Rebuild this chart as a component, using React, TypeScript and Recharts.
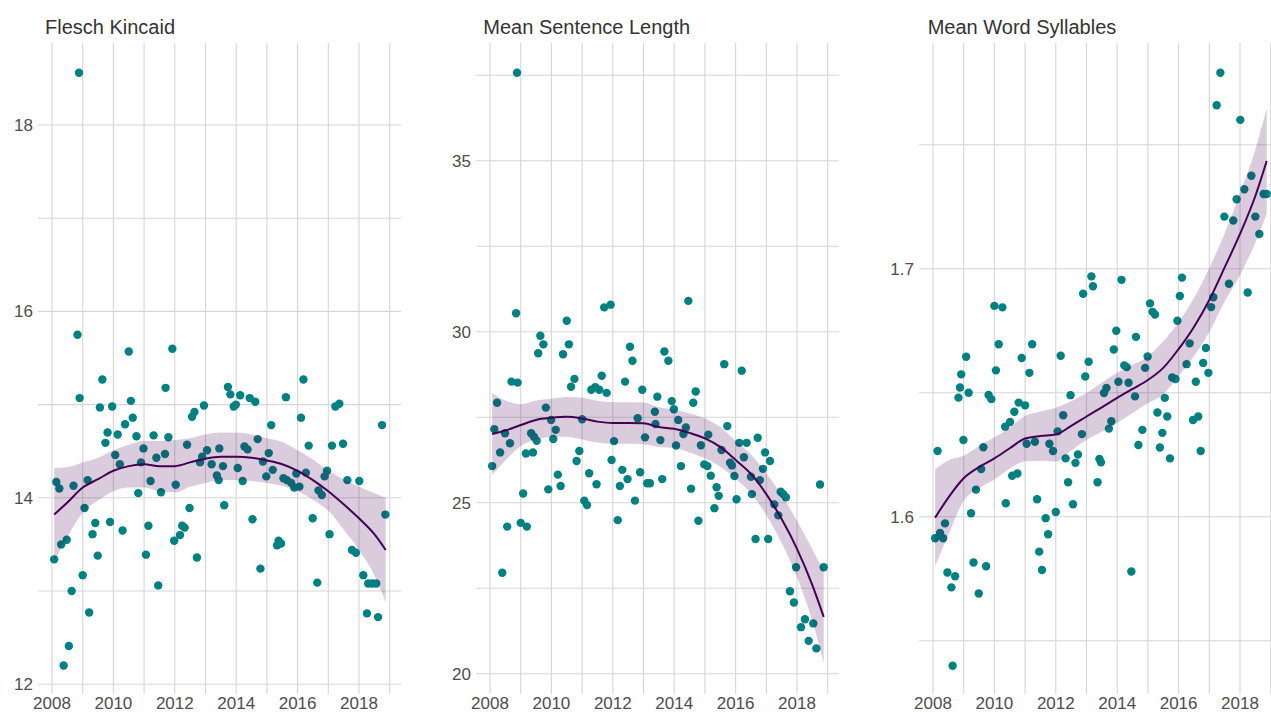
import React from 'react';
import { ComposedChart, Scatter, Area, Line, XAxis, YAxis, CartesianGrid } from 'recharts';

const FONT = '"Liberation Sans", Arial, Helvetica, sans-serif';

// ---------- shared x axis ----------
const xTicks = [2008, 2010, 2012, 2014, 2016, 2018];
const xGridYears = [2008, 2009, 2010, 2011, 2012, 2013, 2014, 2015, 2016, 2017, 2018, 2019];
const xDomain = [2007.544, 2019.368];
const smoothYears = [2008.07, 2008.5, 2009, 2009.5, 2010, 2010.5, 2011, 2011.5, 2012, 2012.5, 2013, 2013.5, 2014, 2014.5, 2015, 2015.5, 2016, 2016.5, 2017, 2017.5, 2018, 2018.5, 2018.87];

// ---------- Flesch Kincaid ----------
const fkYears = [2008.07, 2008.14, 2008.24, 2008.30, 2008.38, 2008.48, 2008.55, 2008.64, 2008.70, 2008.83,
  2008.88, 2008.90, 2009.00, 2009.06, 2009.16, 2009.21, 2009.32, 2009.41, 2009.49, 2009.56,
  2009.64, 2009.74, 2009.81, 2009.89, 2009.96, 2010.06, 2010.14, 2010.21, 2010.30, 2010.38,
  2010.50, 2010.57, 2010.63, 2010.75, 2010.81, 2010.90, 2010.98, 2011.06, 2011.14, 2011.21,
  2011.31, 2011.40, 2011.46, 2011.55, 2011.68, 2011.70, 2011.79, 2011.92, 2011.98, 2012.03,
  2012.17, 2012.24, 2012.32, 2012.40, 2012.48, 2012.56, 2012.64, 2012.72, 2012.82, 2012.89,
  2012.95, 2013.05, 2013.20, 2013.37, 2013.43, 2013.45, 2013.57, 2013.61, 2013.73, 2013.81,
  2013.92, 2013.99, 2014.05, 2014.13, 2014.21, 2014.27, 2014.37, 2014.44, 2014.53, 2014.62,
  2014.70, 2014.79, 2014.87, 2014.98, 2015.06, 2015.14, 2015.19, 2015.33, 2015.38, 2015.46,
  2015.54, 2015.62, 2015.65, 2015.79, 2015.89, 2015.96, 2016.06, 2016.11, 2016.19, 2016.27,
  2016.36, 2016.49, 2016.64, 2016.68, 2016.79, 2016.88, 2016.96, 2017.04, 2017.12, 2017.23,
  2017.36, 2017.48, 2017.62, 2017.77, 2017.90, 2018.01, 2018.14, 2018.26, 2018.30, 2018.43,
  2018.56, 2018.62, 2018.75, 2018.86];
const fkValues = [13.34, 14.17, 14.10, 13.50, 12.20, 13.55, 12.41, 13.00, 14.13, 15.75,
  18.56, 15.07, 13.17, 13.89, 14.19, 12.77, 13.61, 13.73, 13.38, 14.97,
  15.27, 14.59, 14.70, 13.74, 14.98, 14.46, 14.68, 14.36, 13.65, 14.79,
  15.57, 15.04, 14.86, 14.66, 14.05, 14.38, 14.53, 13.39, 13.70, 14.18,
  14.67, 14.43, 13.06, 14.06, 14.47, 15.18, 14.65, 15.60, 13.54, 14.14,
  13.60, 13.70, 13.68, 14.57, 13.89, 14.87, 14.92, 13.36, 14.38, 14.44,
  14.99, 14.51, 14.36, 14.24, 14.19, 14.53, 14.34, 13.92, 15.19, 15.11,
  14.98, 15.00, 14.32, 15.10, 14.18, 14.55, 14.52, 15.07, 13.77, 15.03,
  14.63, 13.24, 14.39, 14.23, 14.48, 14.78, 14.30, 13.49, 13.54, 13.51,
  14.21, 15.08, 14.19, 14.16, 14.11, 14.26, 14.12, 14.86, 15.27, 14.27,
  14.56, 13.78, 13.09, 14.08, 14.03, 14.23, 14.29, 13.61, 14.56, 14.98,
  15.01, 14.58, 14.19, 13.44, 13.41, 14.18, 13.17, 12.76, 13.08, 13.08,
  13.08, 12.72, 14.78, 13.82];
const fkFit = [13.82, 13.95, 14.11, 14.20, 14.29, 14.34, 14.36, 14.34, 14.34, 14.38, 14.42, 14.44, 14.44, 14.43, 14.40, 14.36, 14.29, 14.19, 14.07, 13.93, 13.78, 13.61, 13.44];
const fkLower = [13.32, 13.58, 13.84, 13.97, 14.07, 14.11, 14.11, 14.07, 14.06, 14.12, 14.16, 14.19, 14.19, 14.18, 14.16, 14.13, 14.07, 13.98, 13.86, 13.66, 13.44, 13.17, 12.88];
const fkUpper = [14.32, 14.33, 14.38, 14.43, 14.51, 14.57, 14.61, 14.61, 14.62, 14.64, 14.68, 14.70, 14.70, 14.68, 14.64, 14.60, 14.51, 14.41, 14.29, 14.20, 14.12, 14.05, 14.00];
const fkTicks = [12, 14, 16, 18];
const fkGrid = [12, 13, 14, 15, 16, 17, 18];
const fkDomain = [11.895, 18.88];

// ---------- Mean Sentence Length ----------
const mslYears = [2008.07, 2008.14, 2008.23, 2008.33, 2008.40, 2008.49, 2008.56, 2008.65, 2008.70, 2008.85,
  2008.88, 2008.90, 2009.00, 2009.08, 2009.17, 2009.20, 2009.34, 2009.40, 2009.43, 2009.52,
  2009.57, 2009.64, 2009.74, 2009.82, 2009.90, 2009.99, 2010.06, 2010.14, 2010.21, 2010.30,
  2010.38, 2010.50, 2010.57, 2010.64, 2010.75, 2010.82, 2010.91, 2011.00, 2011.07, 2011.16,
  2011.23, 2011.30, 2011.43, 2011.47, 2011.56, 2011.64, 2011.72, 2011.80, 2011.93, 2011.96,
  2012.04, 2012.16, 2012.23, 2012.31, 2012.40, 2012.48, 2012.56, 2012.64, 2012.72, 2012.81,
  2012.89, 2012.96, 2013.05, 2013.12, 2013.21, 2013.37, 2013.39, 2013.45, 2013.55, 2013.61,
  2013.68, 2013.81, 2013.92, 2013.99, 2014.06, 2014.13, 2014.22, 2014.30, 2014.38, 2014.46,
  2014.55, 2014.62, 2014.70, 2014.79, 2014.87, 2014.98, 2015.08, 2015.11, 2015.19, 2015.31,
  2015.38, 2015.45, 2015.54, 2015.63, 2015.73, 2015.82, 2015.88, 2015.96, 2016.03, 2016.12,
  2016.20, 2016.27, 2016.36, 2016.50, 2016.53, 2016.65, 2016.72, 2016.79, 2016.89, 2016.96,
  2017.06, 2017.12, 2017.26, 2017.39, 2017.47, 2017.55, 2017.64, 2017.77, 2017.90, 2017.97,
  2018.13, 2018.26, 2018.38, 2018.53, 2018.63, 2018.75, 2018.87];
const mslValues = [26.07, 27.15, 27.92, 26.47, 22.95, 27.03, 24.30, 26.74, 28.54, 30.54,
  37.57, 28.51, 24.41, 25.27, 26.44, 24.30, 27.03, 26.47, 26.93, 26.81,
  29.37, 29.88, 29.63, 27.78, 25.39, 27.42, 26.86, 27.13, 25.82, 25.49,
  29.34, 30.32, 29.63, 28.39, 28.62, 26.22, 26.51, 27.44, 25.06, 24.93,
  25.86, 28.30, 28.38, 25.54, 28.30, 28.71, 30.71, 28.21, 30.79, 26.25,
  26.80, 24.49, 25.49, 25.96, 28.54, 25.69, 29.56, 29.15, 25.06, 27.47,
  25.89, 28.30, 26.91, 25.57, 25.57, 27.66, 27.30, 28.10, 26.83, 25.69,
  29.42, 29.15, 27.97, 27.73, 26.67, 27.42, 26.07, 27.01, 27.20, 30.90,
  25.41, 27.92, 28.25, 24.47, 26.68, 26.12, 26.07, 26.99, 25.79, 24.84,
  25.45, 25.20, 26.54, 29.05, 27.24, 26.17, 26.09, 25.78, 25.10, 26.75,
  28.86, 26.33, 26.75, 25.76, 25.25, 23.94, 26.90, 25.66, 25.99, 26.47,
  23.94, 26.22, 24.95, 24.63, 25.32, 25.25, 25.16, 22.41, 22.08, 23.11,
  21.36, 21.59, 20.96, 21.47, 20.74, 25.53, 23.11];
const mslFit = [27.01, 27.11, 27.27, 27.42, 27.48, 27.51, 27.46, 27.37, 27.33, 27.33, 27.32, 27.21, 27.16, 27.04, 26.88, 26.63, 26.25, 25.84, 25.25, 24.52, 23.65, 22.59, 21.66];
const mslLower = [25.81, 26.23, 26.66, 26.85, 26.92, 26.93, 26.85, 26.76, 26.72, 26.72, 26.71, 26.63, 26.60, 26.47, 26.30, 26.05, 25.69, 25.27, 24.64, 23.82, 22.83, 21.54, 20.31];
const mslUpper = [28.21, 27.99, 27.88, 27.99, 28.04, 28.09, 28.07, 27.98, 27.94, 27.94, 27.93, 27.79, 27.72, 27.61, 27.46, 27.21, 26.81, 26.41, 25.86, 25.22, 24.47, 23.64, 23.01];
const mslTicks = [20, 25, 30, 35];
const mslGrid = [20, 22.5, 25, 27.5, 30, 32.5, 35, 37.5];
const mslDomain = [19.406, 38.441];

// ---------- Mean Word Syllables ----------
const mwsYears = [2008.07, 2008.15, 2008.23, 2008.33, 2008.39, 2008.47, 2008.60, 2008.64, 2008.72, 2008.83,
  2008.88, 2008.92, 2008.99, 2009.08, 2009.16, 2009.24, 2009.32, 2009.40, 2009.49, 2009.57,
  2009.64, 2009.73, 2009.81, 2009.90, 2010.00, 2010.05, 2010.14, 2010.26, 2010.35, 2010.37,
  2010.51, 2010.58, 2010.65, 2010.75, 2010.79, 2010.89, 2011.00, 2011.05, 2011.14, 2011.23,
  2011.32, 2011.39, 2011.46, 2011.55, 2011.67, 2011.75, 2011.79, 2011.91, 2012.00, 2012.06,
  2012.16, 2012.24, 2012.32, 2012.40, 2012.48, 2012.56, 2012.64, 2012.72, 2012.85, 2012.89,
  2012.96, 2013.07, 2013.16, 2013.21, 2013.36, 2013.42, 2013.47, 2013.57, 2013.65, 2013.73,
  2013.81, 2013.89, 2013.97, 2014.04, 2014.14, 2014.23, 2014.31, 2014.37, 2014.46, 2014.58,
  2014.61, 2014.69, 2014.82, 2014.91, 2014.99, 2015.07, 2015.15, 2015.23, 2015.31, 2015.39,
  2015.47, 2015.55, 2015.63, 2015.72, 2015.79, 2015.90, 2015.96, 2016.04, 2016.11, 2016.26,
  2016.36, 2016.47, 2016.56, 2016.64, 2016.72, 2016.80, 2016.89, 2016.97, 2017.06, 2017.13,
  2017.24, 2017.36, 2017.49, 2017.64, 2017.78, 2017.89, 2018.01, 2018.14, 2018.25, 2018.37,
  2018.50, 2018.63, 2018.77, 2018.87];
const mwsValues = [1.5913, 1.6265, 1.5934, 1.5913, 1.5973, 1.5775, 1.5715, 1.5399, 1.5760, 1.6480,
  1.6521, 1.6574, 1.6309, 1.6645, 1.6500, 1.6014, 1.5815, 1.6109, 1.5690, 1.6192,
  1.6280, 1.5800, 1.6491, 1.6474, 1.6850, 1.6590, 1.6695, 1.6844, 1.6363, 1.6054,
  1.6382, 1.6165, 1.6423, 1.6174, 1.6460, 1.6640, 1.6449, 1.6294, 1.6580, 1.6695,
  1.6302, 1.6070, 1.5859, 1.5785, 1.5994, 1.5929, 1.6294, 1.6265, 1.6019, 1.6344,
  1.6649, 1.6409, 1.6235, 1.6139, 1.6490, 1.6050, 1.6217, 1.6251, 1.6333, 1.6899,
  1.6565, 1.6625, 1.6969, 1.6929, 1.6139, 1.6233, 1.6219, 1.6499, 1.6519, 1.6355,
  1.6385, 1.6674, 1.6750, 1.6544, 1.6955, 1.6610, 1.6603, 1.6540, 1.5779, 1.6485,
  1.6725, 1.6289, 1.6350, 1.6600, 1.6646, 1.6860, 1.6826, 1.6815, 1.6420, 1.6279,
  1.6338, 1.6479, 1.6404, 1.6235, 1.6561, 1.6555, 1.6790, 1.6890, 1.6964, 1.6615,
  1.6699, 1.6390, 1.6544, 1.6404, 1.6265, 1.6620, 1.6680, 1.6580, 1.6845, 1.6885,
  1.7659, 1.7790, 1.7210, 1.6939, 1.7194, 1.7280, 1.7600, 1.7320, 1.6904, 1.7375,
  1.7210, 1.7140, 1.7301, 1.7301];
const mwsFit = [1.5996, 1.6077, 1.6155, 1.6200, 1.6235, 1.6276, 1.6315, 1.6325, 1.6331, 1.6366, 1.6404, 1.6441, 1.6479, 1.6515, 1.6551, 1.6600, 1.6676, 1.6765, 1.6874, 1.7005, 1.7140, 1.7293, 1.7434];
const mwsLower = [1.5801, 1.5926, 1.6064, 1.6115, 1.6150, 1.6193, 1.6224, 1.6226, 1.6223, 1.6267, 1.6309, 1.6342, 1.6378, 1.6418, 1.6457, 1.6493, 1.6568, 1.6648, 1.6745, 1.6868, 1.6975, 1.7105, 1.7221];
const mwsUpper = [1.6191, 1.6228, 1.6246, 1.6285, 1.6320, 1.6359, 1.6406, 1.6424, 1.6439, 1.6465, 1.6499, 1.6540, 1.6580, 1.6612, 1.6645, 1.6707, 1.6784, 1.6882, 1.7003, 1.7142, 1.7305, 1.7481, 1.7647];
const mwsTicks = [1.6, 1.7];
const mwsGrid = [1.55, 1.6, 1.65, 1.7, 1.75];
const mwsDomain = [1.5285, 1.791];

// ---------- layout ----------
const Y_W = 38;
const PLOT_W = 363;
const CHART_H = 713;
const MARGIN = { top: 43, right: 0, bottom: 0, left: 0 };

const TEAL = '#008080';
const PURPLE = '#440154';

const toPoints = (xs: number[], ys: number[]) => xs.map((x, i) => ({ x, y: ys[i] }));
const toBand = (fit: number[], lo: number[], hi: number[]) =>
  smoothYears.map((x, i) => ({ x, fit: fit[i], range: [lo[i], hi[i]] }));

const panels = [
  { title: 'Flesch Kincaid', titleX: 45, plotLeft: 37.7, points: toPoints(fkYears, fkValues), band: toBand(fkFit, fkLower, fkUpper), ticks: fkTicks, grid: fkGrid, domain: fkDomain },
  { title: 'Mean Sentence Length', titleX: 483.3, plotLeft: 475.7, points: toPoints(mslYears, mslValues), band: toBand(mslFit, mslLower, mslUpper), ticks: mslTicks, grid: mslGrid, domain: mslDomain },
  { title: 'Mean Word Syllables', titleX: 927.7, plotLeft: 918.7, points: toPoints(mwsYears, mwsValues), band: toBand(mwsFit, mwsLower, mwsUpper), ticks: mwsTicks, grid: mwsGrid, domain: mwsDomain },
];

const tickStyle = { fill: '#4d4d4d', fontSize: 17, fontFamily: FONT };

const Dot = (p: any) => <circle cx={p.cx} cy={p.cy} r={4.2} fill={TEAL} />;

function Panel({ p }: { p: typeof panels[number] }) {
  const W = Y_W + PLOT_W;
  return (
    <>
      {/* base layer: grid, axes, points */}
      <div style={{ position: 'absolute', left: p.plotLeft - Y_W, top: 0 }}>
        <ComposedChart width={W} height={CHART_H} data={p.band} margin={MARGIN}>
          <CartesianGrid stroke="#d6d6d6" strokeWidth={1.1} horizontalValues={p.grid} verticalValues={xGridYears} />
          <XAxis type="number" dataKey="x" domain={xDomain} allowDataOverflow ticks={xTicks} interval={0}
            tick={tickStyle} axisLine={false} tickLine={false} tickSize={0} tickMargin={3} height={19} />
          <YAxis type="number" domain={p.domain} allowDataOverflow ticks={p.ticks} interval={0} width={Y_W}
            tick={tickStyle} axisLine={false} tickLine={false} tickSize={0} tickMargin={5} />
          <Scatter data={p.points} dataKey="y" shape={Dot} isAnimationActive={false} />
        </ComposedChart>
      </div>
      {/* top layer: loess ribbon and fitted line drawn over the points */}
      <div style={{ position: 'absolute', left: p.plotLeft - Y_W, top: 0, pointerEvents: 'none' }}>
        <ComposedChart width={W} height={CHART_H} data={p.band} margin={MARGIN}>
          <XAxis type="number" dataKey="x" domain={xDomain} allowDataOverflow ticks={xTicks} tick={false}
            axisLine={false} tickLine={false} height={19} />
          <YAxis type="number" domain={p.domain} allowDataOverflow ticks={p.ticks} tick={false} width={Y_W}
            axisLine={false} tickLine={false} />
          <Area dataKey="range" type="monotone" stroke="none" fill={PURPLE} fillOpacity={0.2}
            isAnimationActive={false} activeDot={false} />
          <Line dataKey="fit" type="monotone" stroke={PURPLE} strokeWidth={2} dot={false} activeDot={false}
            isAnimationActive={false} />
        </ComposedChart>
      </div>
    </>
  );
}

export default function App() {
  return (
    <div style={{ position: 'absolute', left: 0, top: 0, width: 1271, height: 713, overflow: 'hidden', background: '#ffffff' }}>
      {panels.map((p) => <Panel key={p.title} p={p} />)}
      <svg width={1271} height={713} style={{ position: 'absolute', left: 0, top: 0, pointerEvents: 'none' }}>
        {panels.map((p) => (
          <text key={p.title} x={p.titleX} y={34} fontFamily={FONT} fontSize={20} fill="#333333">{p.title}</text>
        ))}
      </svg>
    </div>
  );
}
